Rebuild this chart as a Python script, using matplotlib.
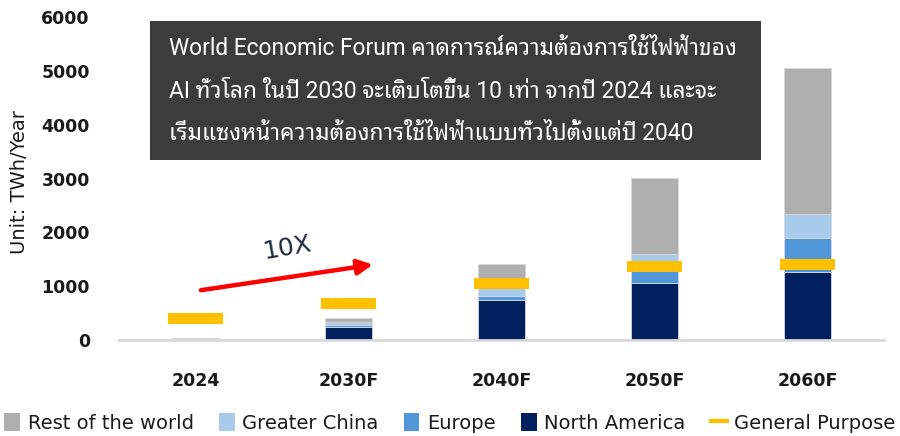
import matplotlib
matplotlib.use("Agg")
import matplotlib.pyplot as plt
from matplotlib import font_manager
from matplotlib.ft2font import FT2Font
from matplotlib.patches import Rectangle, Patch
from matplotlib.lines import Line2D
import numpy as np

# ---------------- data ----------------
categories = ["2024", "2030F", "2040F", "2050F", "2060F"]
north_america = [15, 240, 740, 1050, 1255]
europe = [15, 30, 75, 250, 640]
greater_china = [5, 60, 205, 305, 450]
rest_of_world = [5, 70, 390, 1395, 2700]
general_purpose = [400, 680, 1045, 1365, 1400]
yticks = [0, 1000, 2000, 3000, 4000, 5000, 6000]

series_names = ["North America", "Europe", "Greater China", "Rest of the world"]
series_colors = ["#01205f", "#5097d9", "#a8cbec", "#afafaf"]
gp_color = "#ffc000"

box_text = ("World Economic Forum คาดการณ์ความต้องการใช้ไฟฟ้าของ\n"
            "AI ทั่วโลก ในปี 2030 จะเติบโตขึ้น 10 เท่า จากปี 2024 และจะ\n"
            "เริ่มแซงหน้าความต้องการใช้ไฟฟ้าแบบทั่วไปตั้งแต่ปี 2040")

# ---------------- fonts ----------------
def find_thai_font():
    prefs = ["Noto Sans Thai Looped", "Noto Sans Thai", "Loma", "Garuda", "Umpush",
             "Waree", "Tlwg Typist", "Sawasdee", "Laksaman", "Norasi", "Kinnari"]
    found = {}
    for fe in font_manager.fontManager.ttflist:
        if fe.name in found:
            continue
        try:
            cm = FT2Font(fe.fname).get_charmap()
        except Exception:
            continue
        if 0x0E01 in cm and 0x0E48 in cm:
            found[fe.name] = fe
    for p in prefs:
        if p in found:
            return p
    if found:
        return sorted(found)[0]
    return None


def installed(name):
    return any(fe.name == name for fe in font_manager.fontManager.ttflist)


base_font = "DejaVu Sans"
thai_font = find_thai_font()
latin_box = "Liberation Sans Narrow" if installed("Liberation Sans Narrow") else "Roboto"
box_family = [latin_box] + ([thai_font] if thai_font else []) + [base_font]
plt.rcParams["font.family"] = [base_font]
text_color = "#1a1a1a"

# ---------------- figure ----------------
W, H = 900, 436
fig = plt.figure(figsize=(W / 100, H / 100), dpi=100)
ax_left, ax_right, ax_bottom, ax_top = 119, 884, 340, 17
ax = fig.add_axes([ax_left / W, (H - ax_bottom) / H,
                   (ax_right - ax_left) / W, (ax_bottom - ax_top) / H])

x = np.arange(len(categories))
bar_w = 0.31
bottom = np.zeros(len(categories))
for vals, name, col in zip([north_america, europe, greater_china, rest_of_world],
                           series_names, series_colors):
    ax.bar(x, vals, width=bar_w, bottom=bottom, color=col, label=name,
           edgecolor="#d9d9d9", linewidth=0.6, zorder=2)
    bottom += np.array(vals)

gp_h = 205
ax.bar(x, [gp_h] * len(x), width=0.355, bottom=np.array(general_purpose) - gp_h / 2,
       color=gp_color, linewidth=0, zorder=3)

ax.set_xlim(-0.5, len(categories) - 0.5)
ax.set_ylim(0, 6000)
ax.set_yticks(yticks)
ax.set_xticks(x)
ax.set_xticklabels(categories, fontsize=12.5, fontweight="bold", color=text_color)
ax.set_yticklabels([str(t) for t in yticks], fontsize=12.5, fontweight="bold", color=text_color)
ax.tick_params(axis="y", length=0, pad=21)
ax.tick_params(axis="x", length=0, pad=23)
for s in ["top", "right", "left"]:
    ax.spines[s].set_visible(False)
ax.spines["bottom"].set_color("#d9d9d9")
ax.spines["bottom"].set_linewidth(2)
ax.spines["bottom"].set_zorder(4)

ax.set_ylabel("Unit: TWh/Year", fontsize=14, color=text_color, labelpad=0)
ax.yaxis.set_label_coords(-(ax_left - 29) / (ax_right - ax_left), 0.49)

# arrow + 10X
ax.annotate("", xy=(1.16, 1400), xytext=(0.035, 925),
            arrowprops=dict(arrowstyle="-|>,head_length=0.9,head_width=0.45",
                            color="#ff0000", lw=3.2, shrinkA=0, shrinkB=0), zorder=5)
ax.text(0.6, 1720, "10X", fontsize=18, color="#1c2a3c", rotation=10,
        ha="center", va="center", zorder=5)

# annotation box
bx0, by0, bx1, by1 = 150, 21, 761, 160
fig.patches.append(Rectangle((bx0 / W, (H - by1) / H), (bx1 - bx0) / W, (by1 - by0) / H,
                             transform=fig.transFigure, facecolor="#3c3c3c",
                             edgecolor="none", zorder=10))
fig.text(169 / W, (H - 91) / H, box_text, fontsize=16.4, color="white",
         family=box_family, ha="left", va="center", linespacing=2.1, zorder=11)

# legend
handles = [Patch(facecolor="#afafaf"), Patch(facecolor="#a8cbec"),
           Patch(facecolor="#5097d9"), Patch(facecolor="#01205f"),
           Line2D([0], [0], color=gp_color, lw=3)]
labels = ["Rest of the world", "Greater China", "Europe", "North America", "General Purpose"]
fig.legend(handles, labels, loc="center", bbox_to_anchor=(0.5, (H - 423) / H),
           ncol=5, frameon=False, fontsize=14, handlelength=0.8, handleheight=1.0,
           handletextpad=0.4, columnspacing=1.3, labelcolor=text_color,
           borderaxespad=0, borderpad=0)

fig.savefig("out.png", dpi=100)
